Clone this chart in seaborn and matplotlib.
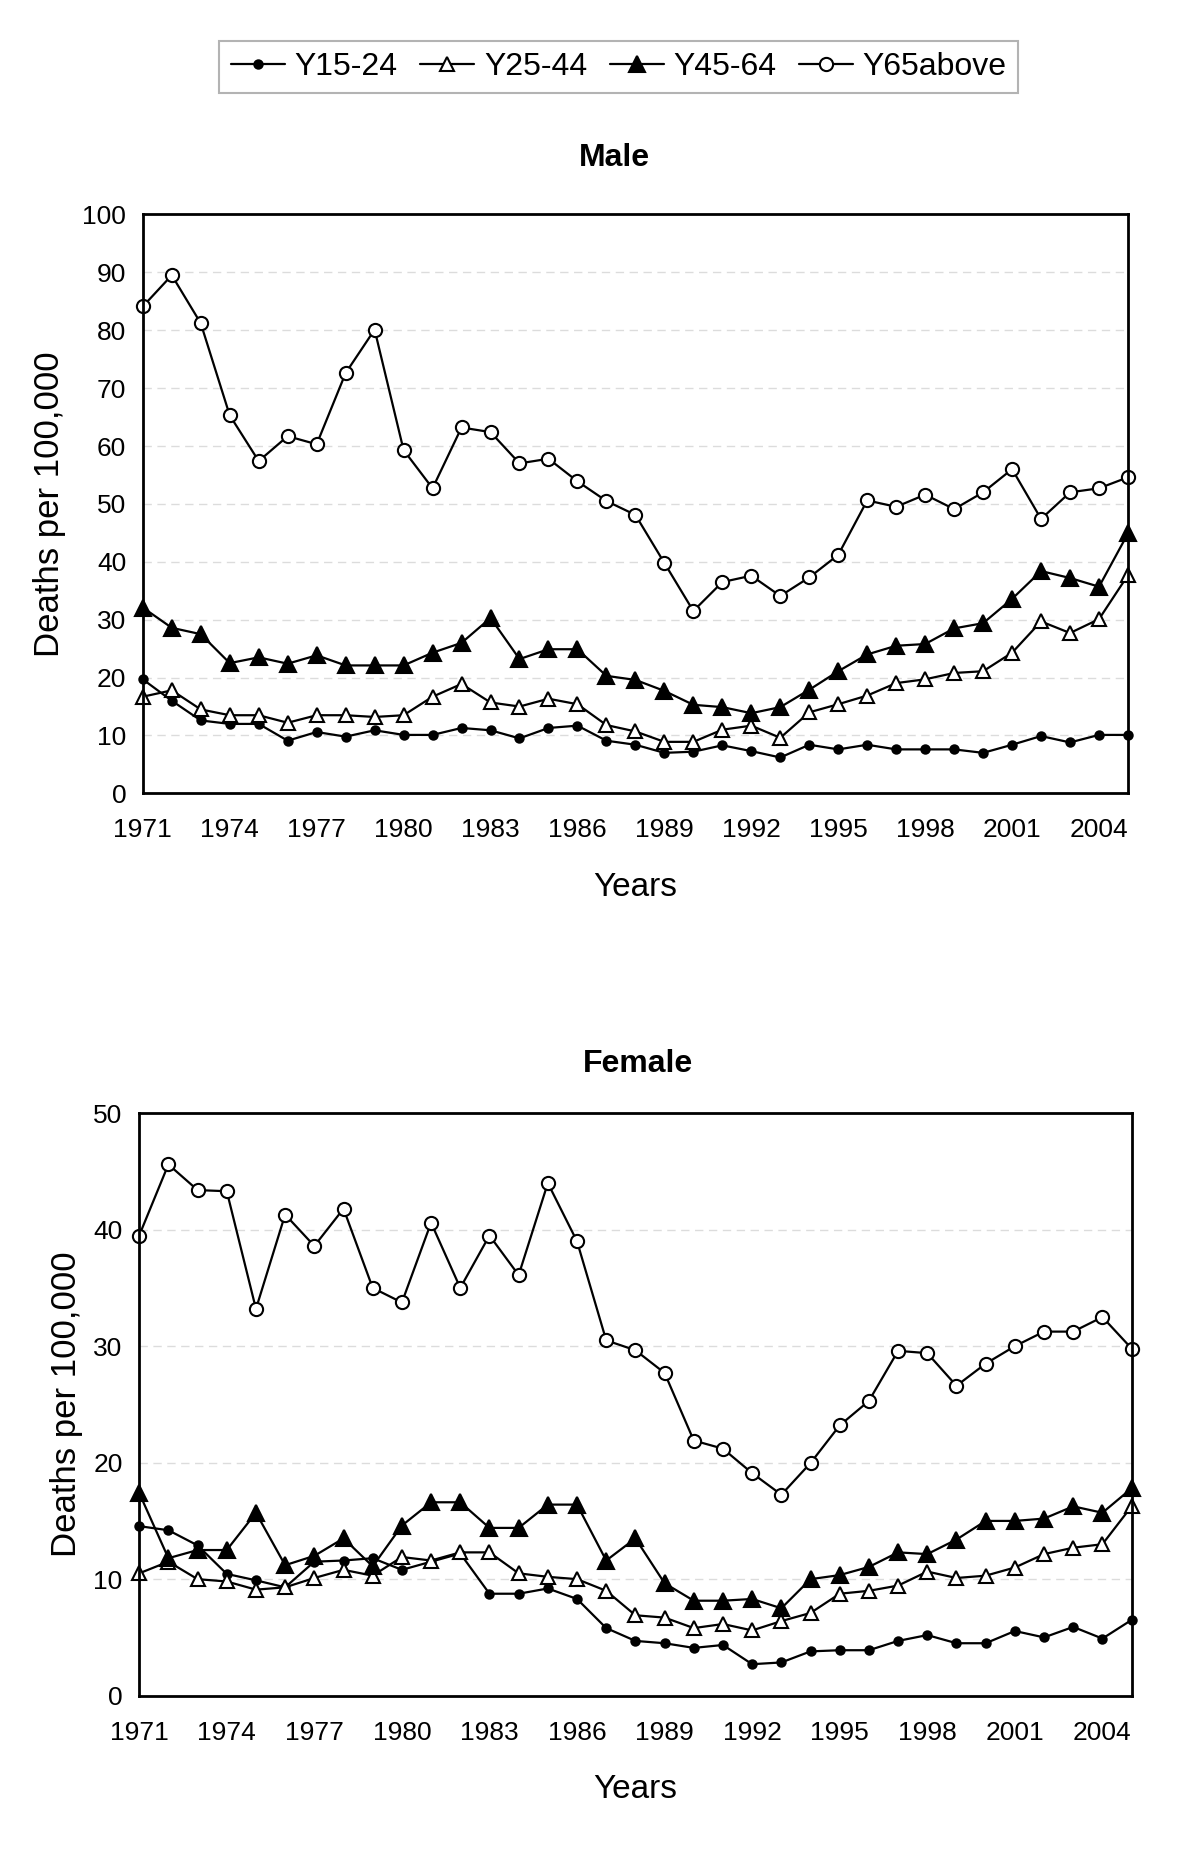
import numpy as np
import pandas as pd
import matplotlib
matplotlib.use('Agg')
import matplotlib.pyplot as plt
import seaborn as sns

sns.set_style('white')
plt.rcParams['font.family'] = ['Liberation Sans', 'DejaVu Sans']
plt.rcParams['text.color'] = 'black'
plt.rcParams['axes.labelcolor'] = 'black'
plt.rcParams['xtick.labelcolor'] = 'black'
plt.rcParams['ytick.labelcolor'] = 'black'

years = list(range(1971, 2006))
groups = ['Y15-24', 'Y25-44', 'Y45-64', 'Y65above']

# male, deaths per 100,000
male_15_24 = [19.7, 16.0, 12.6, 12.0, 12.0, 9.1, 10.6, 9.8, 10.9, 10.1, 10.1, 11.3, 10.9, 9.5, 11.3, 11.7, 9.1, 8.4,
              7.0, 7.2, 8.3, 7.3, 6.2, 8.4, 7.6, 8.4, 7.6, 7.6, 7.6, 7.0, 8.4, 9.9, 8.8, 10.1, 10.1]
male_25_44 = [16.7, 17.8, 14.5, 13.5, 13.5, 12.2, 13.5, 13.5, 13.2, 13.5, 16.7, 18.9, 15.7, 15.0, 16.35, 15.4, 11.8, 10.7,
              8.9, 8.9, 11.0, 11.7, 9.6, 14.0, 15.4, 16.9, 19.05, 19.7, 20.8, 21.1, 24.3, 29.7, 27.7, 30.1, 37.7]
male_45_64 = [32.1, 28.6, 27.5, 22.5, 23.5, 22.4, 23.85, 22.1, 22.1, 22.1, 24.3, 26.0, 30.3, 23.2, 24.9, 24.9, 20.3, 19.6,
              17.7, 15.3, 14.9, 13.85, 14.9, 17.9, 21.1, 24.0, 25.5, 25.8, 28.5, 29.4, 33.6, 38.4, 37.2, 35.7, 44.9]
male_65 = [84.1, 89.5, 81.2, 65.3, 57.4, 61.7, 60.3, 72.6, 80.1, 59.3, 52.7, 63.2, 62.4, 57.0, 57.8, 53.9, 50.5, 48.1,
           39.8, 31.5, 36.5, 37.6, 34.1, 37.3, 41.2, 50.6, 49.5, 51.6, 49.1, 52.0, 56.0, 47.4, 52.0, 52.7, 54.6]

# female
female_15_24 = [14.55, 14.2, 12.9, 10.45, 9.9, 9.3, 11.5, 11.6, 11.8, 10.8, 11.5, 12.2, 8.75, 8.75, 9.2, 8.3, 5.8, 4.7,
                4.5, 4.1, 4.35, 2.7, 2.85, 3.8, 3.9, 3.9, 4.7, 5.2, 4.5, 4.5, 5.55, 5.0, 5.9, 4.9, 6.5]
female_25_44 = [10.5, 11.5, 10.0, 9.8, 9.1, 9.3, 10.1, 10.8, 10.3, 11.9, 11.6, 12.3, 12.3, 10.5, 10.2, 10.0, 9.0, 6.9,
                6.7, 5.8, 6.15, 5.6, 6.4, 7.1, 8.75, 9.0, 9.45, 10.65, 10.1, 10.3, 11.0, 12.15, 12.7, 13.0, 16.25]
female_45_64 = [17.4, 11.8, 12.5, 12.5, 15.7, 11.2, 12.0, 13.5, 11.1, 14.6, 16.6, 16.6, 14.4, 14.4, 16.4, 16.4, 11.6, 13.5,
                9.65, 8.15, 8.15, 8.3, 7.5, 10.0, 10.35, 11.05, 12.3, 12.15, 13.4, 15.0, 15.0, 15.2, 16.25, 15.7, 17.8]
female_65 = [39.5, 45.6, 43.4, 43.3, 33.2, 41.3, 38.6, 41.8, 35.0, 33.75, 40.6, 35.0, 39.5, 36.1, 44.0, 39.0, 30.5, 29.65,
             27.7, 21.9, 21.2, 19.1, 17.25, 19.97, 23.2, 25.3, 29.6, 29.4, 26.6, 28.5, 30.0, 31.25, 31.25, 32.5, 29.8]

# marker, size, face colour for each group
styles = {
    'Y15-24': ('o', 6, 'black'),
    'Y25-44': ('^', 10.5, 'white'),
    'Y45-64': ('^', 11.5, 'black'),
    'Y65above': ('o', 9.5, 'white'),
}

fig = plt.figure(figsize=(12, 18.55), dpi=100)
ax1 = fig.add_axes([0.119, 0.5723, 0.821, 0.3121])
ax2 = fig.add_axes([0.116, 0.0859, 0.827, 0.3140])

def draw_panel(ax, series, ymax, ystep, ylab_x):
  df = pd.DataFrame({'Year': years})
  for name, vals in zip(groups, series):
    df[name] = vals
  for name in groups:
    m, ms, fc = styles[name]
    sns.lineplot(data=df, x='Year', y=name, ax=ax, color='black', linewidth=1.6,
                 marker=m, markersize=ms, markerfacecolor=fc, markeredgecolor='black',
                 markeredgewidth=1.5, label=name, legend=False, clip_on=False, zorder=3)
  ax.set_xlim(1971, 2005)
  ax.set_ylim(0, ymax)
  ax.set_xticks(range(1971, 2006, 3))
  ax.set_xticks(years, minor=True)
  ax.set_yticks(np.arange(0, ymax + 1, ystep))
  ax.tick_params(axis='x', which='both', direction='in', length=6, width=1, color='#b0b0b0',
                 labelsize=19, pad=18)
  ax.tick_params(axis='y', length=0, labelsize=19, pad=12)
  ax.yaxis.grid(True, linestyle=(0, (6, 4)), color='#dcdcdc', linewidth=1)
  ax.set_axisbelow(True)
  for sp in ax.spines.values():
    sp.set_color('black')
    sp.set_linewidth(2)
    sp.set_zorder(4)
  ax.set_xlabel('Years', fontsize=24)
  ax.set_ylabel('Deaths per 100,000', fontsize=25)
  ax.xaxis.set_label_coords(0.5, -0.135)
  ax.yaxis.set_label_coords(ylab_x, 0.5)

draw_panel(ax1, [male_15_24, male_25_44, male_45_64, male_65], 100, 10, -0.078)
draw_panel(ax2, [female_15_24, female_25_44, female_45_64, female_65], 50, 10, -0.057)

fig.text(0.512, 0.9147, 'Male', fontsize=23, fontweight='bold', ha='center', va='center')
fig.text(0.532, 0.4264, 'Female', fontsize=23, fontweight='bold', ha='center', va='center')

handles, labels = ax1.get_legend_handles_labels()
leg = fig.legend(handles, labels, loc='center', bbox_to_anchor=(0.5156, 0.964), ncol=4,
                 fontsize=23, frameon=True, fancybox=False, handlelength=1.7, handletextpad=0.3,
                 columnspacing=0.7, borderpad=0.35)
leg.get_frame().set_edgecolor('#a0a0a0')
leg.get_frame().set_linewidth(1.5)

plt.savefig('out.png', dpi=100)
plt.close()
